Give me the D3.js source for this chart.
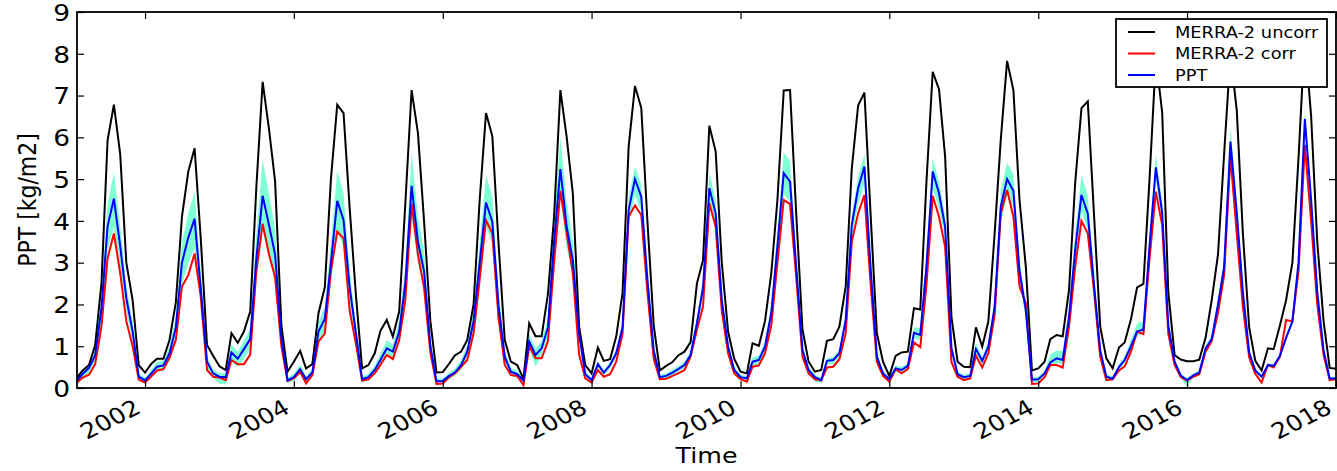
<!DOCTYPE html>
<html><head><meta charset="utf-8">
<script src="https://cdn.jsdelivr.net/npm/d3@7"></script>
<style>body{margin:0;background:#fff} text{font-family:"DejaVu Sans",sans-serif}</style>
</head><body><svg id="c" width="1337" height="471"></svg>
<script>
// Monthly series, Feb 2001 .. Jan 2018
const firstMonth = new Date(2001, 1, 1);
const lastMonth = new Date(2018, 0, 1);

const uncorr = [
0.25,0.42,0.55,1.02,2.5,5.93,6.78,5.6,3.0,2.1,0.55,
0.37,0.58,0.7,0.7,1.15,2.05,4.1,5.18,5.74,3.6,1.03,0.77,
0.52,0.43,1.31,1.08,1.35,1.83,4.8,7.33,6.2,4.95,1.5,0.39,
0.63,0.89,0.47,0.57,1.79,2.41,5.0,6.78,6.58,4.3,2.2,0.47,
0.55,0.83,1.37,1.63,1.23,1.83,4.4,7.13,6.1,4.0,1.6,0.37,
0.38,0.58,0.78,0.87,1.15,2.0,4.5,6.58,6.03,3.5,1.15,0.63,
0.55,0.22,1.55,1.24,1.24,2.25,4.1,7.13,6.0,4.66,1.47,0.55,
0.35,0.97,0.65,0.69,1.23,2.27,5.78,7.23,6.7,4.0,1.5,0.42,
0.53,0.62,0.78,0.87,1.1,2.5,3.06,6.28,5.66,3.0,1.35,0.7,
0.39,0.35,1.07,1.01,1.6,2.75,4.5,7.12,7.13,4.2,1.4,0.63,
0.39,0.43,1.13,1.17,1.47,2.43,5.26,6.76,7.07,4.18,1.31,0.63,
0.29,0.77,0.85,0.87,1.91,1.88,4.9,7.57,7.15,5.54,1.7,0.63,
0.51,0.5,1.45,0.99,1.59,3.7,5.94,7.83,7.13,4.5,2.9,0.42,
0.47,0.63,1.17,1.27,1.24,2.35,4.9,6.7,6.86,4.2,1.47,0.71,
0.47,0.97,1.09,1.65,2.41,2.49,5.0,7.9,6.6,2.3,0.79,0.68,
0.64,0.64,0.68,1.2,2.1,3.2,5.6,8.0,6.65,3.7,1.45,0.65,
0.42,0.95,0.93,1.5,2.1,3.0,5.5,8.4,6.5,3.5,1.6,0.48,
0.46];
const corr = [
0.13,0.25,0.32,0.57,1.47,3.1,3.7,2.75,1.6,1.0,0.2,
0.13,0.28,0.42,0.45,0.72,1.15,2.43,2.7,3.22,2.2,0.43,0.27,
0.25,0.19,0.67,0.57,0.57,0.8,2.8,3.93,3.2,2.65,1.0,0.17,
0.23,0.39,0.11,0.31,1.11,1.3,2.8,3.74,3.58,1.85,1.05,0.18,
0.21,0.35,0.55,0.79,0.69,1.15,2.1,4.4,3.2,2.4,0.85,0.1,
0.11,0.26,0.35,0.51,0.67,1.31,2.6,4.02,3.7,1.7,0.55,0.31,
0.29,0.07,1.0,0.71,0.71,1.12,3.0,4.72,3.7,2.75,0.8,0.23,
0.13,0.43,0.27,0.33,0.63,1.3,4.1,4.37,4.14,2.3,0.7,0.21,
0.22,0.29,0.35,0.43,0.75,1.4,1.95,4.42,3.86,1.85,0.83,0.35,
0.21,0.15,0.51,0.54,0.83,1.5,3.0,4.5,4.4,2.67,0.75,0.35,
0.21,0.18,0.49,0.51,0.69,1.31,3.5,4.18,4.62,2.5,0.63,0.29,
0.15,0.45,0.35,0.45,1.09,0.98,2.45,4.6,4.1,3.38,0.62,0.27,
0.19,0.23,0.77,0.49,0.83,1.75,4.18,4.74,4.1,2.43,2.03,0.1,
0.11,0.26,0.55,0.55,0.49,1.47,2.9,4.0,3.7,2.35,0.75,0.19,
0.21,0.42,0.52,0.87,1.35,1.29,3.1,4.7,3.9,1.3,0.55,0.26,
0.18,0.27,0.33,0.87,1.12,1.8,2.7,5.55,3.7,1.95,0.73,0.34,
0.13,0.55,0.49,0.75,1.63,1.59,2.8,5.82,4.0,2.0,0.8,0.19,
0.21];
const ppt = [
0.18,0.34,0.48,0.78,1.9,3.87,4.53,3.4,2.15,1.35,0.27,
0.18,0.35,0.51,0.54,0.83,1.45,3.0,3.6,4.05,2.4,0.63,0.35,
0.27,0.26,0.85,0.7,0.93,1.17,3.1,4.6,3.9,3.2,1.2,0.18,
0.26,0.45,0.21,0.37,1.35,1.65,3.0,4.48,4.02,2.4,1.3,0.21,
0.26,0.43,0.67,0.95,0.87,1.35,2.5,4.84,3.5,2.8,1.0,0.16,
0.17,0.29,0.37,0.55,0.87,1.6,3.0,4.44,3.98,2.0,0.75,0.39,
0.33,0.18,1.11,0.79,0.95,1.45,3.5,5.24,3.86,3.06,1.3,0.33,
0.19,0.57,0.37,0.55,0.83,1.45,4.26,5.0,4.58,2.6,0.9,0.26,
0.29,0.37,0.45,0.55,0.79,1.55,2.4,4.78,4.18,2.1,0.99,0.43,
0.26,0.23,0.63,0.67,0.99,1.8,3.4,5.14,4.94,2.9,0.91,0.43,
0.26,0.19,0.65,0.67,0.83,1.63,3.9,4.78,5.3,2.9,0.75,0.35,
0.21,0.47,0.43,0.53,1.32,1.27,2.9,5.18,4.66,3.86,0.95,0.33,
0.26,0.29,0.93,0.65,0.99,1.95,4.34,5.0,4.72,2.8,1.85,0.2,
0.21,0.35,0.61,0.71,0.67,1.7,3.3,4.62,4.18,2.5,0.9,0.27,
0.22,0.5,0.67,1.0,1.35,1.4,3.4,5.28,4.2,1.5,0.63,0.3,
0.19,0.3,0.37,0.95,1.17,2.0,2.9,5.9,4.2,2.3,0.85,0.42,
0.27,0.55,0.53,0.77,1.2,1.59,3.0,6.44,4.5,2.3,0.9,0.23,
0.23];
const pptLow = [
0.11,0.25,0.37,0.63,1.59,3.29,3.86,2.88,1.81,1.12,0.19,
0.11,0.25,0.39,0.41,0.66,1.18,2.48,2.98,3.36,1.98,0.49,0.25,
0.1,0.08,0.62,0.5,0.7,0.93,2.53,3.78,3.2,2.62,0.96,0.11,
0.18,0.34,0.14,0.27,1.11,1.36,2.51,3.77,3.38,2.0,1.07,0.14,
0.18,0.33,0.54,0.78,0.71,1.12,2.11,4.12,2.97,2.37,0.82,0.1,
0.11,0.22,0.29,0.44,0.73,1.37,2.6,3.87,3.46,1.72,0.62,0.3,
0.25,0.12,0.94,0.5,0.8,1.24,3.04,4.57,3.36,2.65,1.1,0.25,
0.14,0.49,0.3,0.47,0.73,1.31,3.92,4.61,4.22,2.38,0.8,0.2,
0.23,0.3,0.38,0.47,0.7,1.4,2.19,4.41,3.85,1.91,0.88,0.36,
0.2,0.17,0.53,0.57,0.86,1.6,3.05,4.64,4.46,2.6,0.79,0.35,
0.15,0.12,0.56,0.58,0.73,1.48,3.59,4.41,4.89,2.66,0.66,0.29,
0.15,0.4,0.36,0.45,1.19,1.15,2.66,4.78,4.29,3.55,0.84,0.27,
0.2,0.23,0.82,0.56,0.87,1.76,3.95,4.6,4.3,2.54,1.66,0.14,
0.15,0.28,0.53,0.6,0.57,1.51,2.96,4.2,3.8,2.25,0.8,0.2,
0.16,0.44,0.6,0.9,1.25,1.3,3.18,4.96,3.94,1.4,0.57,0.24,
0.03,0.24,0.32,0.89,1.1,1.9,2.75,5.6,3.99,2.18,0.79,0.37,
0.23,0.51,0.49,0.73,1.14,1.52,2.88,6.18,4.32,2.2,0.85,0.19,
0.19];
const pptHigh = [
0.24,0.42,0.58,0.92,2.19,4.41,5.16,3.88,2.47,1.57,0.35,
0.25,0.44,0.63,0.66,1.0,1.71,3.49,4.18,4.7,2.8,0.76,0.44,
0.36,0.35,1.04,0.87,1.14,1.42,3.7,5.47,4.64,3.82,1.46,0.25,
0.34,0.56,0.28,0.47,1.59,1.94,3.49,5.19,4.66,2.8,1.53,0.28,
0.34,0.54,0.82,1.14,1.05,1.61,2.94,5.65,4.1,3.29,1.2,0.23,
0.23,0.37,0.46,0.67,1.03,1.86,3.46,5.1,4.58,2.32,0.9,0.48,
0.42,0.25,1.3,0.94,1.12,1.69,4.03,6.01,4.44,3.53,1.52,0.42,
0.24,0.64,0.43,0.62,0.92,1.58,4.56,5.3,4.87,2.8,1.0,0.32,
0.35,0.44,0.52,0.63,0.89,1.7,2.61,5.15,4.51,2.29,1.1,0.5,
0.32,0.29,0.73,0.77,1.12,2.0,3.75,5.64,5.42,3.2,1.03,0.51,
0.32,0.24,0.72,0.74,0.91,1.75,4.14,5.06,5.6,3.08,0.83,0.41,
0.27,0.54,0.5,0.6,1.45,1.44,3.1,5.5,4.95,4.1,1.05,0.39,
0.32,0.35,1.07,0.74,1.11,2.15,4.73,5.4,5.12,3.05,2.02,0.26,
0.27,0.42,0.8,0.9,0.88,1.91,3.67,5.1,4.6,2.77,1.0,0.33,
0.28,0.56,0.76,1.15,1.55,1.6,3.62,5.6,4.45,1.6,0.69,0.35,
0.24,0.35,0.42,1.02,1.25,2.13,3.08,6.27,4.46,2.44,0.91,0.47,
0.31,0.59,0.57,0.81,1.25,1.65,3.1,6.65,4.63,2.37,0.94,0.27,
0.27];

const yTicks = [0,1,2,3,4,5,6,7,8,9];
const xTickYears = [2002,2004,2006,2008,2010,2012,2014,2016,2018];
const legendNames = ["MERRA-2 uncorr", "MERRA-2 corr", "PPT"];
const legendColors = ["#000000", "#ff0000", "#0000ff"];
const bandColor = "#7fffd4";
const stretch = 1.15; // text in the reference is widened horizontally

const months = d3.timeMonth.range(firstMonth, d3.timeMonth.offset(lastMonth, 1));

const W = 1337, H = 471;
const m = {left: 77, top: 12, right: 1, bottom: 83};
const x = d3.scaleTime().domain([firstMonth, lastMonth]).range([m.left, W - m.right]);
const y = d3.scaleLinear().domain([0, 9]).range([H - m.bottom, m.top]);

const svg = d3.select("#c");
svg.append("rect").attr("width", W).attr("height", H).attr("fill", "#fff");

svg.append("clipPath").attr("id", "clip").append("rect")
  .attr("x", m.left).attr("y", m.top).attr("width", W - m.left - m.right).attr("height", H - m.top - m.bottom);

const g = svg.append("g").attr("clip-path", "url(#clip)");

const area = d3.area().x((d, i) => x(months[i])).y0((d, i) => y(pptLow[i])).y1((d, i) => y(pptHigh[i]));
g.append("path").datum(ppt).attr("d", area).attr("fill", bandColor).attr("stroke", "none");

const line = arr => d3.line().x((d, i) => x(months[i])).y(d => y(d))(arr);
[uncorr, corr, ppt].forEach((arr, k) => {
  g.append("path").attr("d", line(arr)).attr("fill", "none")
    .attr("stroke", legendColors[k]).attr("stroke-width", 2).attr("stroke-linejoin", "miter");
});

// Axes (ticks inside, on all four sides)
const tickLen = 7;
const xTickDates = xTickYears.map(yr => new Date(yr, 0, 1));
const axB = svg.append("g").attr("transform", `translate(0,${y(0)})`)
  .call(d3.axisBottom(x).tickValues(xTickDates).tickSizeInner(-tickLen).tickSizeOuter(0).tickFormat(d3.timeFormat("%Y")));
const axT = svg.append("g").attr("transform", `translate(0,${y(9)})`)
  .call(d3.axisTop(x).tickValues(xTickDates).tickSizeInner(-tickLen).tickSizeOuter(0).tickFormat(""));
const axL = svg.append("g").attr("transform", `translate(${x(firstMonth)},0)`)
  .call(d3.axisLeft(y).tickValues(yTicks).tickSizeInner(-tickLen).tickSizeOuter(0).tickFormat(d3.format("d")));
const axR = svg.append("g").attr("transform", `translate(${x(lastMonth)},0)`)
  .call(d3.axisRight(y).tickValues(yTicks).tickSizeInner(-tickLen).tickSizeOuter(0).tickFormat(""));
[axB, axT, axL, axR].forEach(a => {
  a.select(".domain").remove();
  a.selectAll(".tick line").attr("stroke", "#000").attr("stroke-width", 1.2);
});
axL.selectAll(".tick text").attr("x", 0).attr("dy", "0.36em")
  .attr("transform", `translate(-7,0) scale(${stretch},1)`)
  .attr("font-size", 23).attr("fill", "#000").attr("font-family", "DejaVu Sans");
axB.selectAll(".tick text")
  .attr("font-size", 22).attr("fill", "#000").attr("font-family", "DejaVu Sans")
  .attr("text-anchor", "end").attr("y", 0).attr("dy", 0)
  .attr("transform", `translate(-3,24) scale(${stretch},1) rotate(-30)`);

// Frame
svg.append("rect").attr("x", x(firstMonth)).attr("y", y(9))
  .attr("width", x(lastMonth) - x(firstMonth)).attr("height", y(0) - y(9))
  .attr("fill", "none").attr("stroke", "#000").attr("stroke-width", 1.8);

// Axis labels
svg.append("text")
  .attr("transform", `translate(${(x(firstMonth) + x(lastMonth)) / 2},463) scale(${stretch},1)`)
  .attr("text-anchor", "middle").attr("font-size", 22).text("Time");
svg.append("text")
  .attr("transform", `translate(36,${(y(0) + y(9)) / 2}) scale(${stretch},1) rotate(-90)`)
  .attr("text-anchor", "middle").attr("font-size", 22).text("PPT [kg/m2]");

// Legend
const lg = svg.append("g").attr("transform", "translate(1116,19)");
lg.append("rect").attr("width", 211).attr("height", 68).attr("fill", "#fff")
  .attr("stroke", "#000").attr("stroke-width", 1.8);
legendNames.forEach((name, k) => {
  const yy = 13 + k * 21.5;
  lg.append("line").attr("x1", 12).attr("x2", 39).attr("y1", yy).attr("y2", yy)
    .attr("stroke", legendColors[k]).attr("stroke-width", 2);
  lg.append("text").attr("transform", `translate(59,${yy}) scale(${stretch},1)`)
    .attr("dy", "0.36em").attr("font-size", 15.5).text(name);
});
</script></body></html>
